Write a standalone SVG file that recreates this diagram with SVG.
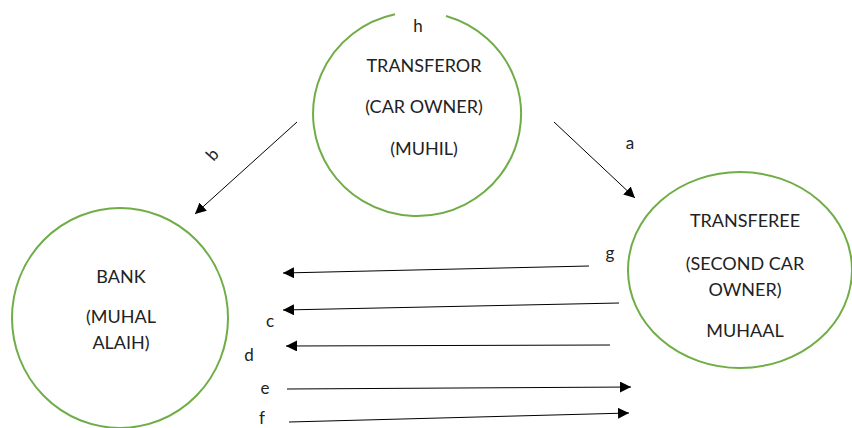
<svg xmlns="http://www.w3.org/2000/svg" width="852" height="428" viewBox="0 0 852 428">
<style>
.node{fill:none;stroke:#70AD47;stroke-width:2}
.t{font-family:Lato,"Liberation Sans",sans-serif;font-size:18px;fill:#222;text-anchor:middle}
.l{font-family:Lato,"Liberation Sans",sans-serif;font-size:17px;fill:#222;text-anchor:middle}
.c{stroke:#000;stroke-width:1;fill:none;marker-end:url(#ah)}
</style>
<defs>
<marker id="ah" viewBox="0 0 10 10" refX="10" refY="5" markerWidth="11" markerHeight="11" markerUnits="userSpaceOnUse" orient="auto">
<path d="M0,0 L10,5 L0,10 z" fill="#000"/>
</marker>
</defs>
<rect width="852" height="428" fill="#fff"/>
<g id="transferor">
<path class="node" d="M446,16 A104,102 0 1 1 395,14.3"/>
<text class="l" x="418" y="32">h</text>
<text class="t" x="424" y="72">TRANSFEROR</text>
<text class="t" x="424" y="113">(CAR OWNER)</text>
<text class="t" x="424" y="155">(MUHIL)</text>
</g>
<g id="bank">
<ellipse class="node" cx="120" cy="318" rx="108" ry="110"/>
<text class="t" x="121" y="283">BANK</text>
<text class="t" x="121" y="323">(MUHAL</text>
<text class="t" x="121" y="349">ALAIH)</text>
</g>
<g id="transferee">
<ellipse class="node" cx="740" cy="270" rx="112" ry="98"/>
<text class="t" x="745" y="227">TRANSFEREE</text>
<text class="t" x="745" y="270">(SECOND CAR</text>
<text class="t" x="745" y="296">OWNER)</text>
<text class="t" x="745" y="337">MUHAAL</text>
</g>
<g id="connectors">
<line class="c" x1="297" y1="122" x2="195" y2="214"/>
<line class="c" x1="554" y1="122" x2="635" y2="198"/>
<line class="c" x1="589" y1="266" x2="283" y2="273"/>
<line class="c" x1="619" y1="303" x2="283" y2="310"/>
<line class="c" x1="610" y1="345" x2="286" y2="346"/>
<line class="c" x1="287" y1="389" x2="631" y2="387"/>
<line class="c" x1="289" y1="422" x2="629" y2="413"/>
<text class="l" x="213" y="160" transform="rotate(-48 213 155)">b</text>
<text class="l" x="630" y="149">a</text>
<text class="l" x="610" y="259">g</text>
<text class="l" x="270" y="327">c</text>
<text class="l" x="249" y="361">d</text>
<text class="l" x="265" y="394">e</text>
<text class="l" x="262" y="424" font-size="16">f</text>
</g>
</svg>
